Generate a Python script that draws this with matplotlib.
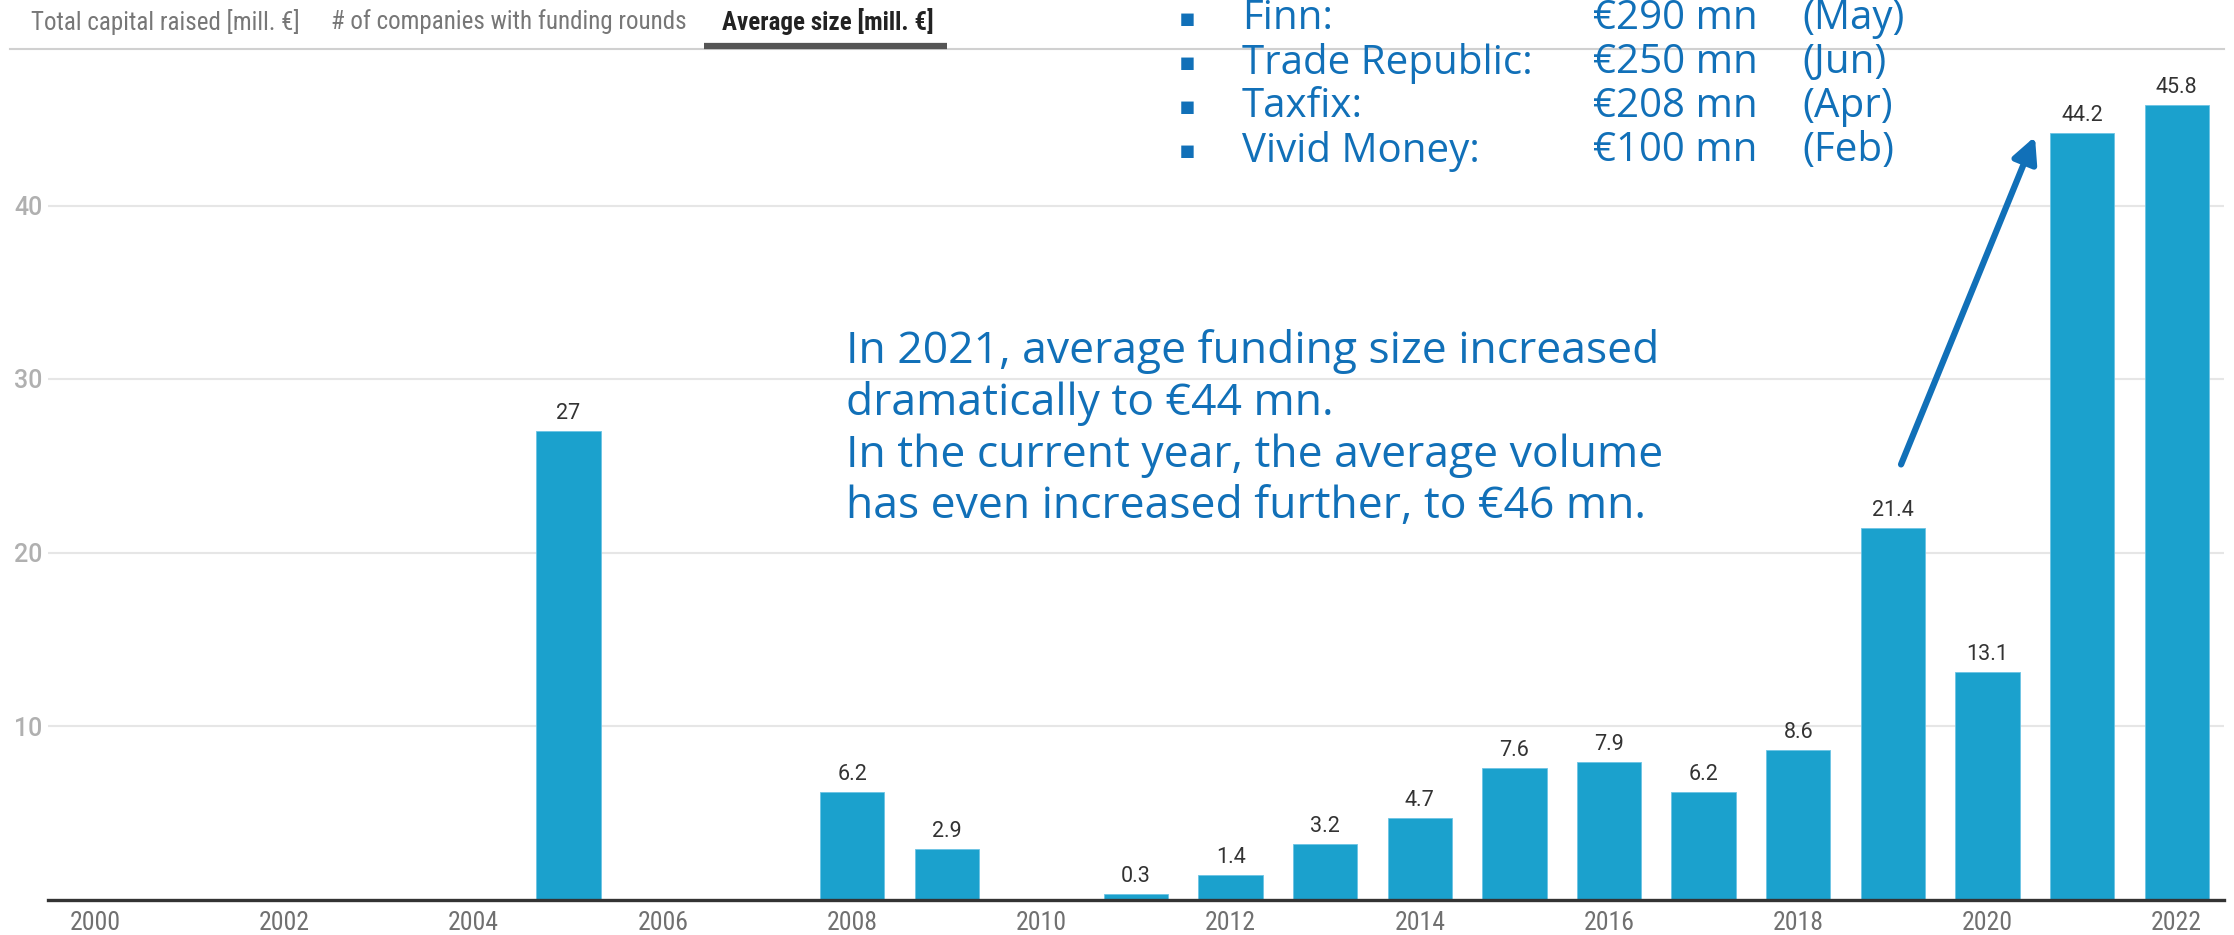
import matplotlib
matplotlib.use("Agg")
import matplotlib.pyplot as plt
from matplotlib import font_manager
from matplotlib.lines import Line2D
from matplotlib.patches import FancyArrowPatch

# ---- data ----
years = list(range(2000, 2023))
avg_size = [None, None, None, None, None, 27, None, None, 6.2, 2.9, None, 0.3,
            1.4, 3.2, 4.7, 7.6, 7.9, 6.2, 8.6, 21.4, 13.1, 44.2, 45.8]
tick_years = list(range(2000, 2023, 2))
y_ticks = [10, 20, 30, 40]
tabs = ["Total capital raised [mill. \u20ac]", "# of companies with funding rounds",
        "Average size [mill. \u20ac]"]
top_rounds = [("Finn:", "\u20ac290 mn", "(May)"),
              ("Trade Republic:", "\u20ac250 mn", "(Jun)"),
              ("Taxfix:", "\u20ac208 mn", "(Apr)"),
              ("Vivid Money:", "\u20ac100 mn", "(Feb)")]
note_lines = ["In 2021, average funding size increased",
              "dramatically to \u20ac44 mn.",
              "In the current year, the average volume",
              "has even increased further, to \u20ac46 mn."]

installed = {f.name for f in font_manager.fontManager.ttflist}
def pick(*names):
    for n in names:
        if n in installed:
            return n
    return "DejaVu Sans"

narrow = pick("Roboto Condensed", "Liberation Sans Narrow", "Roboto")
roboto = pick("Roboto", "DejaVu Sans")
geo = pick("Open Sans", "Lato", "DejaVu Sans")

BAR = "#1ba1cd"
BLUE = "#1170b8"
W, H = 2234, 935

fig = plt.figure(figsize=(W / 100, H / 100), dpi=100)
fig.patch.set_facecolor("white")

def fx(x):
    return x / W

def fy(y):
    return 1 - y / H

# axes geometry
ax_left, ax_right = 48, 2224
y_zero, px_per_unit = 899.5, 17.35
ymax = 49
ax_top = y_zero - ymax * px_per_unit
ax = fig.add_axes([fx(ax_left), fy(y_zero), (ax_right - ax_left) / W,
                   (y_zero - ax_top) / H])

xs = [yr for yr, v in zip(years, avg_size) if v is not None]
vs = [v for v in avg_size if v is not None]
ax.bar(xs, vs, width=0.68, color=BAR, edgecolor="#6cc4e4", linewidth=0.6, zorder=3)
for x, v in zip(xs, vs):
    ax.annotate(f"{v:g}", (x, v), xytext=(0, 7), textcoords="offset pixels",
                ha="center", va="bottom", fontsize=15.5, family=roboto, color="#333333")

ax.set_xlim(1999.5, 2022.5)
ax.set_ylim(0, ymax)
ax.set_xticks(tick_years)
ax.set_xticklabels([str(t) for t in tick_years], fontsize=18.5, family=narrow, color="#707070")
ax.set_yticks(y_ticks)
ax.set_yticklabels([str(t) for t in y_ticks], fontsize=18, family=roboto, color="#b0b0b0",
                   fontweight="medium")
ax.tick_params(axis="both", length=0)
ax.tick_params(axis="x", pad=8)
ax.tick_params(axis="y", pad=4)
ax.grid(axis="y", color="#e6e6e6", linewidth=1.5, zorder=0)
for s in ["top", "right", "left"]:
    ax.spines[s].set_visible(False)
ax.spines["bottom"].set_color("#333333")
ax.spines["bottom"].set_linewidth(2.4)
ax.spines["bottom"].set_zorder(4)

# tab strip
tab_x = [31, 331, 722]
for i, (t, x) in enumerate(zip(tabs, tab_x)):
    fig.text(fx(x), fy(22), t, ha="left", va="center", fontsize=18, family=narrow,
             color="#222222" if i == 2 else "#777777",
             fontweight="bold" if i == 2 else "normal")
fig.add_artist(Line2D([fx(10), fx(2224)], [fy(49), fy(49)], color="#d0d0d0", linewidth=1.5))
fig.add_artist(Line2D([fx(704), fx(947)], [fy(46), fy(46)], color="#555555", linewidth=4.5,
                      solid_capstyle="butt"))

# top funding rounds list
row_y = [19, 63, 107, 151]
for (name, amount, month), y in zip(top_rounds, row_y):
    fig.text(fx(1187), fy(y), "\u25aa", ha="center", va="center", fontsize=18,
             family="DejaVu Sans", color=BLUE)
    fig.text(fx(1242), fy(y), name, ha="left", va="center", fontsize=29, family=geo, color=BLUE)
    fig.text(fx(1593), fy(y), amount, ha="left", va="center", fontsize=29, family=geo, color=BLUE)
    fig.text(fx(1802), fy(y), month, ha="left", va="center", fontsize=29, family=geo, color=BLUE)

# commentary
for i, line in enumerate(note_lines):
    fig.text(fx(846), fy(352 + i * 51.7), line, ha="left", va="center", fontsize=32,
             family=geo, color=BLUE)

# arrow pointing to the 2021 jump
fig.add_artist(FancyArrowPatch(
    (1900 / W, fy(467)), (2036 / W, fy(134)), transform=fig.transFigure,
    arrowstyle="-|>", mutation_scale=38, linewidth=4.5, color=BLUE))

fig.savefig("out.png", dpi=100, facecolor="white")
